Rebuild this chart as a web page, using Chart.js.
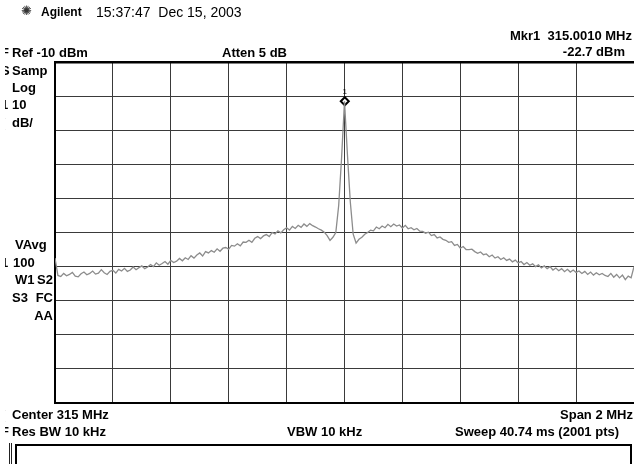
<!DOCTYPE html>
<html>
<head>
<meta charset="utf-8">
<script src="https://cdn.jsdelivr.net/npm/chart.js@4.4.1/dist/chart.umd.min.js"></script>
<style>
html, body { margin: 0; padding: 0; width: 634px; height: 464px; overflow: hidden; background: #fff; }
#wrap { position: absolute; left: 0; top: 0; width: 640px; height: 464px; }
.t { position: absolute; font: bold 13px "Liberation Sans", Arial, sans-serif; line-height: 14px; white-space: pre; color: #000; }
.n { font-weight: normal; }
.clip { position: absolute; left: 5px; top: 0; width: 5px; height: 464px; overflow: hidden; }
.clip .t { left: -4px; }
.box { position: absolute; left: 15px; top: 444px; width: 617px; height: 40px; border: 2px solid #000; box-sizing: border-box; }
.bar { position: absolute; top: 443px; width: 1px; height: 25px; background: #222; }
</style>
</head>
<body>
<div id="wrap"><canvas id="sa" width="640" height="464"></canvas></div>

<!-- header -->
<div class="t n" style="left:21px;top:4px;font-size:13px;color:#333">✺</div>
<div class="t" style="left:41px;top:5px;font-size:12px">Agilent</div>
<div class="t n" style="left:96px;top:5px;font-size:14px">15:37:47  Dec 15, 2003</div>
<div class="t" style="right:2px;top:29px">Mkr1  315.0010 MHz</div>
<div class="t" style="right:9px;top:45px">-22.7 dBm</div>
<div class="t" style="left:12px;top:46px">Ref -10 dBm</div>
<div class="t" style="left:222px;top:46px">Atten 5 dB</div>

<!-- left annotations -->
<div class="t" style="left:12px;top:64px">Samp</div>
<div class="t" style="left:12px;top:81px">Log</div>
<div class="t" style="left:12px;top:98px">10</div>
<div class="t" style="left:12px;top:116px">dB/</div>
<div class="t" style="left:15px;top:238px">VAvg</div>
<div class="t" style="left:13px;top:256px">100</div>
<div class="t" style="left:15px;top:273px">W1</div>
<div class="t" style="right:581px;top:273px">S2</div>
<div class="t" style="left:12px;top:291px">S3</div>
<div class="t" style="right:581px;top:291px">FC</div>
<div class="t" style="right:581px;top:309px">AA</div>

<!-- cut-off characters at the left edge -->
<div class="clip">
  <div class="t" style="top:46px">F</div>
  <div class="t" style="top:64px">S</div>
  <div class="t" style="top:81px">I</div>
  <div class="t" style="top:98px">1</div>
  <div class="t" style="top:116px">(</div>
  <div class="t" style="top:238px">\</div>
  <div class="t" style="top:256px">1</div>
  <div class="t" style="top:273px">\</div>
  <div class="t" style="top:291px">:</div>
  <div class="t" style="top:408px">(</div>
  <div class="t" style="top:425px">F</div>
</div>

<!-- bottom annotations -->
<div class="t" style="left:12px;top:408px">Center 315 MHz</div>
<div class="t" style="right:1px;top:408px">Span 2 MHz</div>
<div class="t" style="left:12px;top:425px">Res BW 10 kHz</div>
<div class="t" style="left:287px;top:425px">VBW 10 kHz</div>
<div class="t" style="left:455px;top:425px">Sweep 40.74 ms (2001 pts)</div>
<div class="bar" style="left:9px"></div>
<div class="bar" style="left:11px"></div>
<div class="box"></div>

<script>
// sweep points, MHz (center 315, span 2)
const freqMHz = [
  314.00, 314.01, 314.02, 314.03, 314.04, 314.05, 314.06, 314.07, 314.08, 314.09,
  314.10, 314.11, 314.12, 314.13, 314.14, 314.15, 314.16, 314.17, 314.18, 314.19,
  314.20, 314.21, 314.22, 314.23, 314.24, 314.25, 314.26, 314.27, 314.28, 314.29,
  314.30, 314.31, 314.32, 314.33, 314.34, 314.35, 314.36, 314.37, 314.38, 314.39,
  314.40, 314.41, 314.42, 314.43, 314.44, 314.45, 314.46, 314.47, 314.48, 314.49,
  314.50, 314.51, 314.52, 314.53, 314.54, 314.55, 314.56, 314.57, 314.58, 314.59,
  314.60, 314.61, 314.62, 314.63, 314.64, 314.65, 314.66, 314.67, 314.68, 314.69,
  314.70, 314.71, 314.72, 314.73, 314.74, 314.75, 314.76, 314.77, 314.78, 314.79,
  314.80, 314.81, 314.82, 314.83, 314.84, 314.85, 314.86, 314.87, 314.88, 314.89,
  314.90, 314.91, 314.92, 314.93, 314.94, 314.95, 314.96, 314.97, 314.98, 314.99,
  315.00, 315.01, 315.02, 315.03, 315.04, 315.05, 315.06, 315.07, 315.08, 315.09,
  315.10, 315.11, 315.12, 315.13, 315.14, 315.15, 315.16, 315.17, 315.18, 315.19,
  315.20, 315.21, 315.22, 315.23, 315.24, 315.25, 315.26, 315.27, 315.28, 315.29,
  315.30, 315.31, 315.32, 315.33, 315.34, 315.35, 315.36, 315.37, 315.38, 315.39,
  315.40, 315.41, 315.42, 315.43, 315.44, 315.45, 315.46, 315.47, 315.48, 315.49,
  315.50, 315.51, 315.52, 315.53, 315.54, 315.55, 315.56, 315.57, 315.58, 315.59,
  315.60, 315.61, 315.62, 315.63, 315.64, 315.65, 315.66, 315.67, 315.68, 315.69,
  315.70, 315.71, 315.72, 315.73, 315.74, 315.75, 315.76, 315.77, 315.78, 315.79,
  315.80, 315.81, 315.82, 315.83, 315.84, 315.85, 315.86, 315.87, 315.88, 315.89,
  315.90, 315.91, 315.92, 315.93, 315.94, 315.95, 315.96, 315.97, 315.98, 315.99,
  316.00
];

// trace level, dBm
const levelDbm = [
  -67.5, -72.6, -72.9, -72.0, -72.7, -72.3, -71.7, -72.8, -73.0, -72.1,
  -71.6, -72.4, -72.0, -71.3, -72.2, -71.9, -70.9, -71.8, -72.3, -71.4,
  -71.1, -71.9, -70.8, -71.3, -70.5, -71.4, -71.0, -70.1, -70.9, -70.3,
  -69.8, -70.6, -70.1, -69.4, -70.0, -68.9, -69.6, -69.1, -68.5, -69.3,
  -68.2, -68.8, -68.4, -67.6, -68.3, -67.4, -67.9, -66.8, -67.5, -66.6,
  -66.0, -66.9, -65.6, -66.0, -65.3, -65.8, -64.8, -65.5, -64.6, -64.4,
  -64.9, -63.8, -64.0, -63.3, -63.9, -62.8, -62.9, -62.3, -62.9, -61.7,
  -61.2, -61.8, -61.0, -60.6, -61.2, -60.0, -60.4, -59.5, -60.1, -59.2,
  -58.6, -59.3, -58.2, -58.8, -57.9, -58.5, -57.5, -58.2, -57.4, -58.0,
  -58.4, -58.9, -59.3, -59.9, -60.9, -62.3, -61.4, -60.0, -52.0, -38.0,
  -21.5, -37.0, -51.0, -60.5, -63.1, -62.0, -61.4, -60.5, -60.0, -59.3,
  -59.5, -58.4, -58.9, -58.1, -58.6, -57.6, -58.3, -57.5, -58.1, -57.8,
  -58.7, -57.9, -58.9, -58.6, -59.2, -58.8, -59.6, -59.7, -60.2, -59.9,
  -60.9, -60.6, -61.6, -61.3, -62.0, -62.3, -62.9, -62.7, -63.8, -63.5,
  -64.6, -64.1, -65.0, -65.0, -64.9, -65.6, -66.1, -65.7, -66.5, -66.3,
  -67.1, -66.6, -67.5, -67.1, -67.9, -67.4, -68.2, -67.8, -68.6, -68.1,
  -68.9, -68.5, -69.4, -68.8, -69.6, -69.2, -70.0, -69.5, -70.4, -69.8,
  -70.6, -70.0, -71.0, -70.4, -71.2, -70.6, -71.5, -70.8, -71.6, -71.0,
  -71.7, -71.3, -72.0, -71.4, -72.3, -71.6, -72.5, -71.8, -72.4, -72.0,
  -72.6, -72.9, -72.0, -73.1, -72.3, -73.3, -72.5, -73.8, -72.8, -73.3,
  -70.0
];

// marker 1
const markerFreq = [315.001];
const markerLevel = [-21.5];

// 10 dB/div from Ref -10 dBm
const refLevel = -10;
const bottomLevel = -110;

const trace = freqMHz.map((f, i) => ({ x: f, y: levelDbm[i] }));
const marker = markerFreq.map((f, i) => ({ x: f, y: markerLevel[i] }));

// little "1" over the marker
const markerLabel = {
    id: 'markerLabel',
    afterDatasetsDraw(chart) {
        const pt = chart.getDatasetMeta(1).data[0];
        const ctx = chart.ctx;
        ctx.save();
        ctx.fillStyle = '#000';
        ctx.font = '8px "Liberation Sans", Arial, sans-serif';
        ctx.textAlign = 'center';
        ctx.textBaseline = 'bottom';
        ctx.fillText('1', pt.x, pt.y - 5);
        ctx.restore();
    }
};

new Chart(document.getElementById('sa'), {
    type: 'line',
    data: {
        datasets: [{
                data: trace,
                borderColor: '#8c8c8c',
                borderWidth: 1.3,
                pointRadius: 0,
                tension: 0
            },
            {
                data: marker,
                showLine: false,
                pointStyle: 'rectRot',
                pointRadius: 4,
                borderWidth: 2,
                borderColor: '#000',
                backgroundColor: '#fff'
            }
        ]
    },
    options: {
        responsive: false,
        devicePixelRatio: 1,
        animation: false,
        layout: { padding: { left: 55, top: 62, right: 5, bottom: 61 } },
        plugins: { legend: { display: false }, tooltip: { enabled: false } },
        scales: {
            x: {
                type: 'linear',
                min: 314,
                max: 316,
                ticks: { display: false, stepSize: 0.2 },
                grid: { color: '#3a3a3a', lineWidth: 1, drawTicks: false },
                border: { color: '#000', width: 2 }
            },
            y: {
                min: bottomLevel,
                max: refLevel,
                ticks: { display: false, stepSize: 10 },
                grid: {
                    color: (c) => c.tick && c.tick.value === refLevel ? '#000' : '#3a3a3a',
                    lineWidth: (c) => c.tick && c.tick.value === refLevel ? 2.5 : 1,
                    drawTicks: false
                },
                border: { color: '#000', width: 2 }
            }
        }
    },
    plugins: [markerLabel]
});
</script>
</body>
</html>
